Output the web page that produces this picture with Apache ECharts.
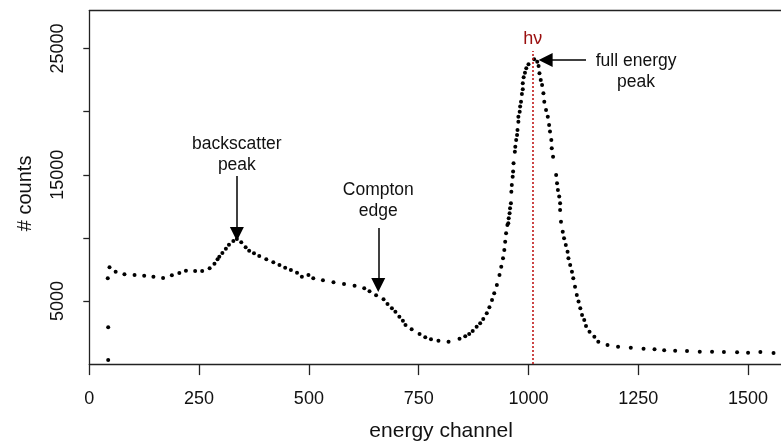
<!DOCTYPE html>
<html>
<head>
<meta charset="utf-8">
<script src="https://cdn.jsdelivr.net/npm/echarts@6/dist/echarts.min.js"></script>
<style>
  html, body { margin: 0; padding: 0; background: #fff; }
  #chart { width: 781px; height: 441px; }
</style>
</head>
<body>
<div id="chart"></div>
<script>
// Gamma-ray spectrum: counts per energy channel
const channels = [
  43, 43, 42, 46, 60, 80, 103, 125, 146, 168, 188, 205, 220, 241, 257, 274, 285, 292, 296, 303,
  311, 318, 328, 336, 346, 356, 364, 375, 387, 403, 419, 433, 446, 459, 473, 484, 499, 510, 532, 556,
  580, 604, 626, 638, 653, 670, 679, 689, 697, 706, 714, 720, 734, 752, 765, 778, 795, 818, 843, 856,
  865, 873, 882, 890, 897, 905, 911, 917, 922, 928, 934, 938, 942, 945, 947, 949, 952, 954, 955, 957,
  958, 960, 961, 962, 964, 965, 966, 969, 970, 972, 974, 975, 977, 977, 980, 981, 983, 985, 987, 987,
  989, 992, 995, 1000, 1013, 1020, 1023, 1025, 1028, 1031, 1034, 1036, 1040, 1044, 1047, 1049, 1052, 1053, 1056, 1063,
  1065, 1067, 1070, 1072, 1072, 1074, 1078, 1081, 1085, 1089, 1091, 1095, 1099, 1102, 1106, 1110, 1114, 1118, 1122, 1127,
  1131, 1139, 1150, 1159, 1180, 1204, 1233, 1262, 1287, 1309, 1334, 1361, 1390, 1418, 1445, 1475, 1500, 1528, 1558
];
const counts = [
  330, 2920, 6800, 7670, 7320, 7120, 7060, 7000, 6930, 6820, 7040, 7220, 7400, 7380, 7380, 7590, 7960, 8300, 8510, 8800,
  9140, 9460, 9750, 9910, 9650, 9260, 8990, 8780, 8570, 8300, 8070, 7850, 7640, 7460, 7240, 6930, 7060, 6800, 6640, 6480,
  6350, 6210, 6010, 5770, 5450, 5130, 4760, 4420, 4150, 3760, 3440, 3100, 2760, 2390, 2130, 1970, 1850, 1770, 2010, 2200,
  2390, 2620, 2960, 3230, 3570, 4030, 4500, 5080, 5610, 6270, 7060, 7720, 8380, 9040, 9700, 10360, 11020, 11160, 11550, 11950,
  12350, 12740, 13660, 14190, 14850, 15250, 15910, 16830, 17230, 17760, 18150, 18550, 19210, 19600, 20000, 20400, 20790, 21400, 21780, 22250,
  22730, 23090, 23440, 23760, 24150, 23960, 23620, 23040, 22510, 22120, 21460, 20790, 20130, 19600, 18950, 18420, 17760, 17100, 16430, 14980,
  14330, 13800, 13270, 12740, 12210, 11280, 10490, 9970, 9440, 8910, 8380, 7850, 7320, 6800, 6130, 5480, 4950, 4420, 3890, 3490,
  3020, 2570, 2170, 1770, 1510, 1380, 1300, 1220, 1170, 1090, 1060, 1040, 980, 980, 960, 940, 900, 960, 880
];

// Axis ticks and labels
const xTicks = [0, 250, 500, 750, 1000, 1250, 1500];
const yTicks = [5000, 10000, 15000, 20000, 25000];
const yLabels = [5000, 15000, 25000];

// Photon energy marker (hν) and annotation texts
const photoPeakChannel = 1010;
const photoPeakLineTop = 24800;
const notes = [
  { text: 'backscatter\npeak', at: [336, 16610] },
  { text: 'Compton\nedge', at: [658, 12920] },
  { text: 'full energy\npeak', at: [1245, 23180] }
];
const arrows = [
  { from: [336, 14900], to: [336, 10300] },
  { from: [658, 10780], to: [658, 6260] },
  { from: [1131, 24100], to: [1039, 24100] }
];

const FONT = '"Liberation Sans", Arial, Helvetica, sans-serif';
const INK = '#111';
const AXIS = '#222';
const plain = v => String(v);

const chart = echarts.init(document.getElementById('chart'), null, { renderer: 'canvas' });

const markLineData = arrows.map(a => [
  { coord: a.from, symbol: 'none' },
  { coord: a.to, symbol: 'triangle' }
]);
markLineData.push([
  { coord: [photoPeakChannel, 0], symbol: 'none',
    lineStyle: { type: [2, 2], color: '#c01818', width: 1.6 },
    label: { show: true, position: 'end', formatter: 'hν', color: '#9a0f0f',
             fontSize: 18, fontFamily: FONT, distance: 3 } },
  { coord: [photoPeakChannel, photoPeakLineTop], symbol: 'none' }
]);

const xMin = 0, xMax = 1575, yMin = 0, yMax = 28000;

chart.setOption({
  animation: false,
  backgroundColor: '#fff',
  grid: {
    left: 89.3, top: 10.7, right: 0, bottom: 76.9,
    show: false, containLabel: false, outerBoundsMode: 'none'
  },
  xAxis: [{
    type: 'value', min: xMin, max: xMax, interval: 250,
    axisLine: { show: true, lineStyle: { color: AXIS, width: 1.3 } },
    axisTick: { show: true, length: 11, customValues: xTicks, lineStyle: { color: AXIS, width: 1.3 } },
    axisLabel: { customValues: xTicks, formatter: plain, fontSize: 18, margin: 26, color: INK, fontFamily: FONT },
    splitLine: { show: false },
    name: 'energy channel', nameLocation: 'middle', nameGap: 57,
    nameTextStyle: { fontSize: 21, color: INK, fontFamily: FONT, padding: [0, 0, 0, 12] }
  }, {
    // top edge of the plot box
    type: 'value', position: 'top', min: xMin, max: xMax,
    axisLine: { show: true, onZero: false, lineStyle: { color: AXIS, width: 1.3 } },
    axisTick: { show: false }, axisLabel: { show: false }, splitLine: { show: false }
  }],
  yAxis: {
    type: 'value', min: yMin, max: yMax, interval: 5000,
    axisLine: { show: true, lineStyle: { color: AXIS, width: 1.3 } },
    axisTick: { show: true, length: 6, customValues: yTicks, lineStyle: { color: AXIS, width: 1.3 } },
    axisLabel: { customValues: yLabels, formatter: plain, rotate: 90, fontSize: 18, margin: 22, color: INK, fontFamily: FONT },
    splitLine: { show: false },
    name: '# counts', nameLocation: 'middle', nameGap: 54,
    nameTextStyle: { fontSize: 20, color: INK, fontFamily: FONT, padding: [0, 12, 0, 0] }
  },
  series: [{
    type: 'scatter',
    data: channels.map((c, i) => [c, counts[i]]),
    symbol: 'circle',
    symbolSize: 4,
    itemStyle: { color: '#000', opacity: 1 },
    silent: true,
    emphasis: { disabled: true },
    markLine: {
      silent: true,
      animation: false,
      symbolSize: 14,
      label: { show: false },
      lineStyle: { color: '#000', width: 1.5, type: 'solid' },
      emphasis: { disabled: true },
      data: markLineData
    },
    markPoint: {
      silent: true,
      animation: false,
      symbol: 'circle',
      symbolSize: 0,
      label: {
        show: true, position: 'inside', color: INK, fontSize: 17.5, lineHeight: 21,
        fontFamily: FONT, align: 'center', formatter: p => p.name
      },
      data: notes.map(n => ({ name: n.text, coord: n.at }))
    }
  }]
});
</script>
</body>
</html>
